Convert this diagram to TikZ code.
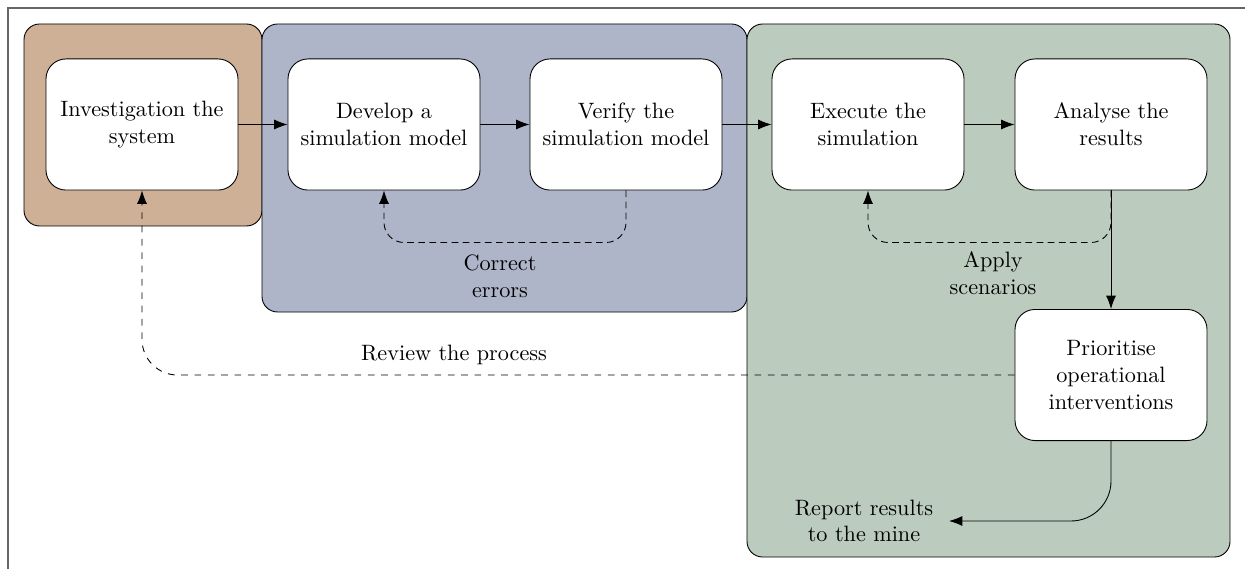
\documentclass[tikz,border=0pt]{standalone}
\usepackage[dvipsnames]{xcolor}
\definecolor{colorbrown}{RGB}{205,176,149}
\definecolor{colorblue}{RGB}{175,181,201}
\definecolor{colorgreen}{RGB}{187,204,190}
\usetikzlibrary{arrows.meta}

\begin{document}
\begin{tikzpicture}[x=0.45pt, y=-0.45pt,
	stage/.style={draw, fill=white, rounded corners=9pt, minimum width=86.4pt, minimum height=59pt, align=center},
	phase/.style={draw, rounded corners=7pt},
	flow/.style={-{Latex[length=6pt,width=4.5pt]}},
	retry/.style={flow, densely dashed, rounded corners=9pt},
	back/.style={flow, dashed, rounded corners=16pt}]
	\useasboundingbox (0,0) rectangle (1245,569);
	\draw[black!60, line width=0.8pt] (8,569) -- (8,8) -- (1245,8);
	\draw[phase, fill=colorbrown] (24,24) rectangle (262,226);
	\draw[phase, fill=colorblue] (262,24) rectangle (747,312);
	\draw[phase, fill=colorgreen] (747,24) rectangle (1230,557);
	\node[stage] (inv) at (142,124.5) {Investigation the\\system};
	\node[stage] (dev) at (384,124.5) {Develop a\\simulation model};
	\node[stage] (ver) at (626,124.5) {Verify the\\simulation model};
	\node[stage] (exe) at (868,124.5) {Execute the\\simulation};
	\node[stage] (ana) at (1111,124.5) {Analyse the\\results};
	\node[stage] (pri) at (1111,375) {Prioritise\\operational\\interventions};
	\node[align=center] (fixlabel) at (500,276) {Correct\\errors};
	\node[align=center] (scenlabel) at (993,273) {Apply\\scenarios};
	\node (reviewlabel) at (454,355) {Review the process};
	\node[align=center] (report) at (864,521) {Report results\\to the mine};
	\draw[flow] (inv) -- (dev);
	\draw[flow] (dev) -- (ver);
	\draw[flow] (ver) -- (exe);
	\draw[flow] (exe) -- (ana);
	\draw[flow] (ana) -- (pri);
	\draw[retry] (ver.south) -- ++(0,52) -| (dev.south);
	\draw[retry] (ana.south) -- ++(0,52) -| (exe.south);
	\draw[back] (pri.west) -| (inv.south);
	\draw[flow, rounded corners=18pt] (pri.south) |- ([xshift=3.6pt]report.east);
\end{tikzpicture}
\end{document}
